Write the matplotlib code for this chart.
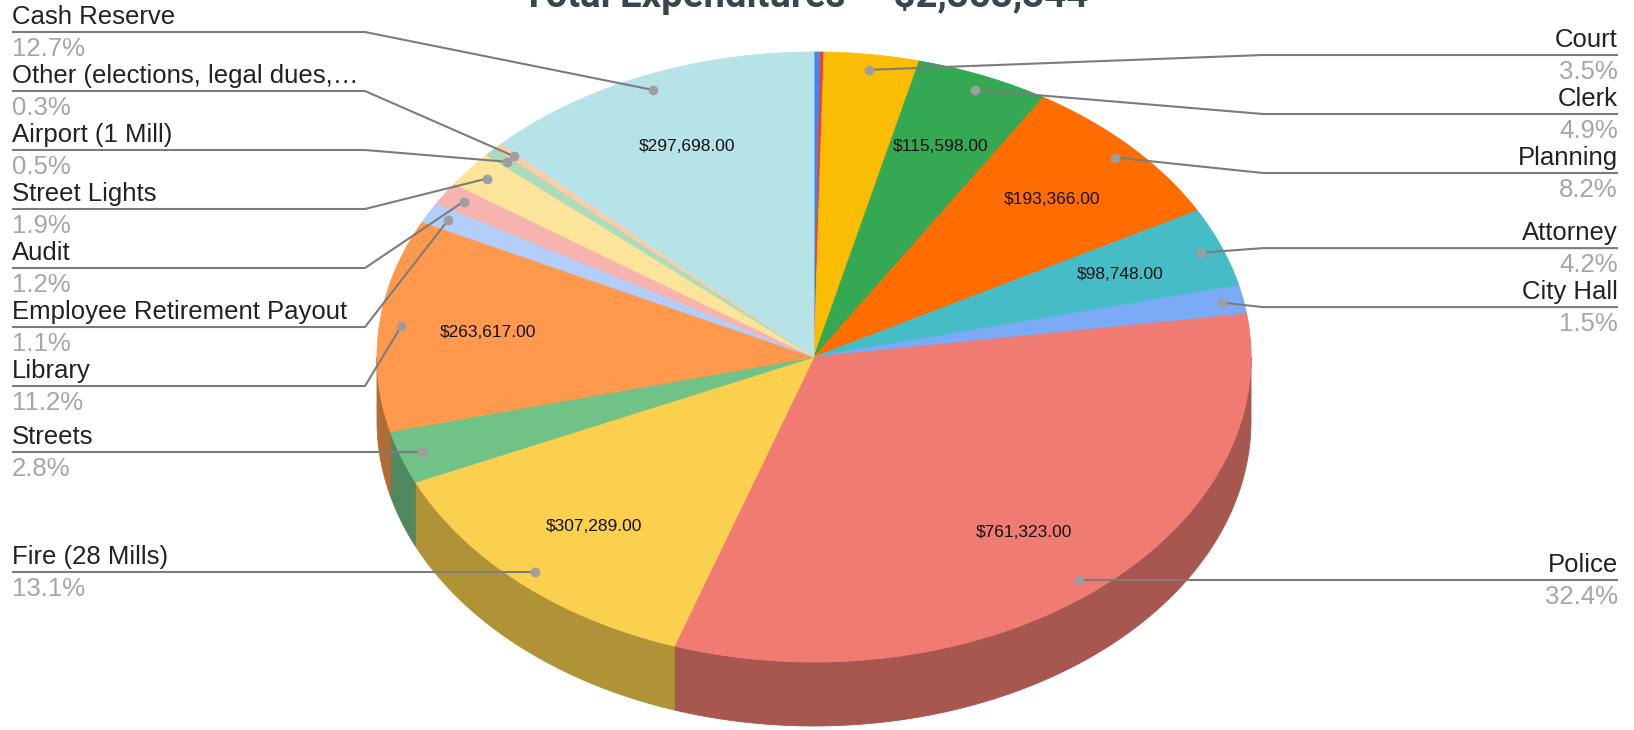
import matplotlib
matplotlib.use('Agg')
import numpy as np
import matplotlib.pyplot as plt
from matplotlib.patches import Polygon
from matplotlib.colors import to_rgb

# slices, clockwise from 12 o'clock (the two thin ones at the top carry no label)
categories = ['', '', 'Court', 'Clerk', 'Planning', 'Attorney', 'City Hall', 'Police',
              'Fire (28 Mills)', 'Streets', 'Library', 'Employee Retirement Payout', 'Audit',
              'Street Lights', 'Airport (1 Mill)', 'Other (elections, legal dues,\u2026', 'Cash Reserve']
values = [5500, 3000, 82400, 115598, 193366, 98748, 35300, 761323,
          307289, 65900, 263617, 25900, 28200,
          44700, 11800, 7100, 297698]
colors = ['#4285F4', '#EA4335', '#FBBC04', '#34A853', '#FF6D01', '#46BDC6', '#7BAAF7', '#F07B72',
          '#FCD04F', '#71C287', '#FF994D', '#B3CEFB', '#F7B4AE',
          '#FDE49B', '#AEDCBA', '#FFCBA8', '#B5E3E8']
title = 'Total Expenditures \u2014 $2,353,344'

W, H = 1634, 730
fig = plt.figure(figsize=(W / 100, H / 100), dpi=100)
ax = fig.add_axes([0, 0, 1, 1])
ax.set_xlim(0, W)
ax.set_ylim(H, 0)
ax.axis('off')

# pie geometry in pixels
cx, cy, rx, ry, depth = 814, 357, 437, 305, 64
LBL = 'Liberation Sans'


def pt(theta, r=1.0):
    t = np.radians(theta)
    return cx + r * rx * np.sin(t), cy - r * ry * np.cos(t)


def arc(a0, a1, r=1.0):
    n = max(3, int(abs(a1 - a0) * 2))
    th = np.linspace(a0, a1, n)
    x, y = pt(th, r)
    return np.column_stack([x, y])


vals = np.array(values, dtype=float)
frac = vals / vals.sum()
edges = np.concatenate([[0], np.cumsum(frac)]) * 360

# side walls (front half only)
for i, c in enumerate(colors):
    s, e = max(edges[i], 90), min(edges[i + 1], 270)
    if s >= e:
        continue
    top = arc(s, e)
    bot = top[::-1] + [0, depth]
    dark = tuple(np.array(to_rgb(c)) * 0.7)
    ax.add_patch(Polygon(np.vstack([top, bot]), closed=True, fc=dark, ec=dark, lw=0.6, zorder=1))

# top face
for i, c in enumerate(colors):
    poly = np.vstack([[cx, cy], arc(edges[i], edges[i + 1])])
    ax.add_patch(Polygon(poly, closed=True, fc=c, ec=c, lw=0.6, zorder=2))

# values inside the larger slices
for i, v in enumerate(values):
    if frac[i] < 0.04:
        continue
    mid = (edges[i] + edges[i + 1]) / 2
    x, y = pt(mid, 0.75)
    ax.text(x, y, f'${v:,.2f}', ha='center', va='center', fontsize=12.5,
            family=LBL, color='#111111', zorder=4)

# leader labels, stacked per side
spacing = 59
top_bound = {'left': 32, 'right': 55}
items = {'left': [], 'right': []}
for i, name in enumerate(categories):
    if not name:
        continue
    mid = (edges[i] + edges[i + 1]) / 2
    dx, dy = pt(mid, 0.95)
    side = 'left' if dx < cx else 'right'
    items[side].append([dy, i, dx, dy])

for side, lst in items.items():
    lst.sort()
    tb = top_bound[side]
    groups = []
    for it in lst:
        groups.append([it])
        while True:
            g = groups[-1]
            start = max(tb, np.mean([k[0] for k in g]) - spacing * (len(g) - 1) / 2)
            if len(groups) > 1:
                pg = groups[-2]
                pstart = max(tb, np.mean([k[0] for k in pg]) - spacing * (len(pg) - 1) / 2)
                if pstart + spacing * len(pg) > start:
                    groups[-2] = pg + g
                    groups.pop()
                    continue
            break
    for g in groups:
        start = max(tb, np.mean([k[0] for k in g]) - spacing * (len(g) - 1) / 2)
        for j, (_, i, dx, dy) in enumerate(g):
            ly = start + j * spacing
            if side == 'left':
                elbow, end, tx, ha = 365, 12, 12, 'left'
            else:
                elbow, end, tx, ha = 1263, 1618, 1618, 'right'
            ax.plot([dx, elbow, end], [dy, ly, ly], color='#7c7c7c', lw=1.5, zorder=5,
                    solid_capstyle='butt')
            ax.plot(dx, dy, 'o', ms=6, color='#9e9e9e', zorder=6)
            ax.text(tx, ly - 8, categories[i], ha=ha, va='baseline', fontsize=18.5,
                    family=LBL, color='#222222')
            ax.text(tx, ly + 24, f'{frac[i] * 100:.1f}%', ha=ha, va='baseline', fontsize=18.5,
                    family=LBL, color='#a6a6a6')

fig.text(805 / W, 1 - 7 / H, title, ha='center', va='baseline', fontsize=27.5,
         fontweight='bold', family='Roboto', color='#37474F')

fig.savefig('out.png', dpi=100)
